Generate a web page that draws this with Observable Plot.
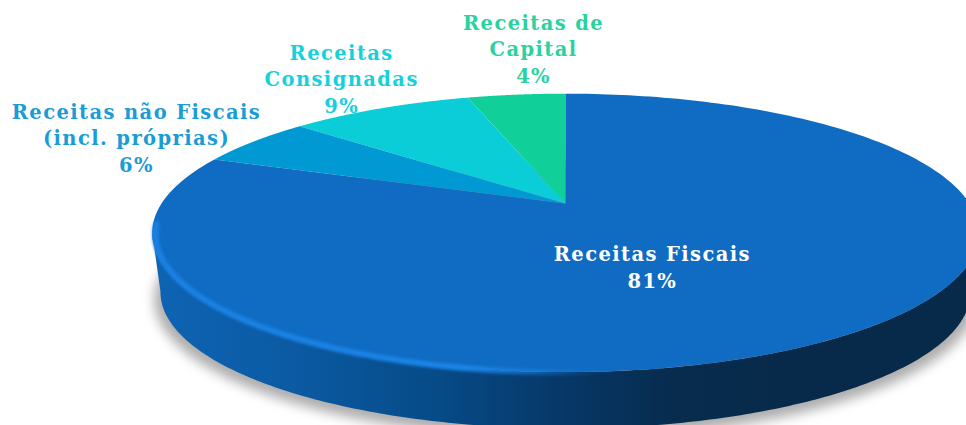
<!DOCTYPE html>
<html><head><meta charset="utf-8">
<script src="https://cdn.jsdelivr.net/npm/d3@7"></script>
<script src="https://cdn.jsdelivr.net/npm/@observablehq/plot@0.6"></script>
<style>
html,body{margin:0;padding:0;background:#fff}
svg text{letter-spacing:1.4px}
</style></head><body><div id="chart"></div>
<script>
// Data, in the order of the slices starting at 12 o'clock and going counter-clockwise
const categories = ["Receitas de\nCapital", "Receitas\nConsignadas", "Receitas não Fiscais\n(incl. próprias)", "Receitas Fiscais"];
const percentLabels = [4, 9, 6, 81];
// share of the disc each slice occupies in the picture
const sliceShares = [4.7, 8.8, 5.7, 80.8];
const sliceColors = ["#10cf98", "#0acdd8", "#0099d4", "#0f6cc2"];
const labelColors = ["#2ad2a0", "#18d0dc", "#1a9cd6", "#ffffff"];
// label centres in disc units
const labelX = [-0.079, -0.554, -1.062, 0.215];
const labelY = [-1.171, -0.945, -0.501, 0.468];

// Tilted-disc projection of a unit circle (k = perspective strength)
const k = 0.211;
const rim = (deg, scale = 1, drop = 0) => {
  const t = deg * Math.PI / 180, w = 1 + k * Math.cos(t);
  return {x: scale * Math.sin(t) / w, y: -scale * Math.cos(t) / w + drop};
};
const arc = (from, to, scale, drop) => d3.range(0, 241).map(i => rim(from + (to - from) * i / 240, scale, drop));

let start = 360;
const slices = categories.flatMap((name, i) => {
  const end = start - sliceShares[i] * 3.6;
  const pts = [{x: 0, y: 0}, ...arc(start, end)].map(p => ({...p, name, color: sliceColors[i]}));
  start = end;
  return pts;
});

const wallDrop = 0.45, wallScale = 0.98;
const wall = [...arc(102, 258), ...arc(258, 102, wallScale, wallDrop)];
const shadow = arc(0, 360, 0.995, wallDrop + 0.05);
const bevel = arc(262, 172, 0.992, 0.012);
const labels = categories.map((c, i) => ({
  text: `${c}\n${percentLabels[i]}%`, x: labelX[i], y: labelY[i], color: labelColors[i]
}));

const defs = () => {
  const s = d3.create("svg:defs");
  const g = s.append("linearGradient").attr("id", "wall").attr("gradientUnits", "userSpaceOnUse")
    .attr("x1", 150).attr("x2", 800).attr("y1", 0).attr("y2", 0);
  [[0, "#0e64b4"], [0.22, "#0b5aa3"], [0.45, "#064a86"], [0.62, "#06396a"], [0.8, "#072c4e"], [1, "#072a4a"]]
    .forEach(([o, c]) => g.append("stop").attr("offset", o).attr("stop-color", c));
  const b = s.append("linearGradient").attr("id", "bevel").attr("gradientUnits", "userSpaceOnUse")
    .attr("x1", 150).attr("x2", 600).attr("y1", 0).attr("y2", 0);
  b.append("stop").attr("offset", 0).attr("stop-color", "#1b80e2");
  b.append("stop").attr("offset", 0.7).attr("stop-color", "#1b84e8");
  b.append("stop").attr("offset", 1).attr("stop-color", "#1b84e8").attr("stop-opacity", 0);
  return s.node();
};

const plot = Plot.plot({
  width: 966, height: 425,
  margin: 0,
  style: {background: "#fff", fontFamily: "'DejaVu Serif', serif"},
  x: {domain: [-1, 1], range: [161, 969], axis: null},
  y: {domain: [-1, 1], range: [70, 336], axis: null},
  color: {type: "identity"},
  marks: [
    defs,
    Plot.line(shadow, {x: "x", y: "y", fill: "#adadad", stroke: "none", imageFilter: "blur(6px)"}),
    Plot.line(wall, {x: "x", y: "y", fill: "url(#wall)", stroke: "none"}),
    Plot.line(slices, {x: "x", y: "y", z: "name", fill: "color", stroke: "none"}),
    Plot.line(bevel, {x: "x", y: "y", stroke: "url(#bevel)", strokeWidth: 6, imageFilter: "blur(1.5px)"}),
    Plot.text(labels, {x: "x", y: "y", text: "text", fill: "color", fontSize: 19.5, fontWeight: "bold", lineHeight: 1.37, textAnchor: "middle"})
  ]
});
document.getElementById("chart").appendChild(plot);
</script></body></html>
